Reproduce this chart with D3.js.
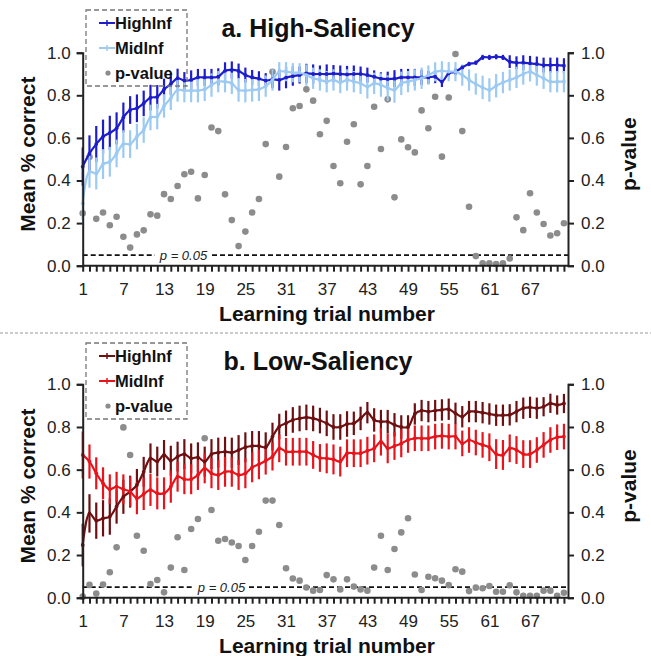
<!DOCTYPE html>
<html><head><meta charset="utf-8">
<script src="https://cdn.jsdelivr.net/npm/d3@7"></script>
<style>
html,body{margin:0;padding:0;background:#fff;}
svg{display:block;font-family:"Liberation Sans",Arial,sans-serif;}
</style></head>
<body>
<svg id="chart" width="651" height="656"></svg>
<script>
// ---------- DATA ----------
const trials = d3.range(1, 73);
const xTickLabels = [1, 7, 13, 19, 25, 31, 37, 43, 49, 55, 61, 67];
const yTickLabels = [0, 0.2, 0.4, 0.6, 0.8, 1.0];
const seriesNames = ["HighInf", "MidInf", "p-value"];

// Panel a: High-Saliency
const highSalHighInf = [0.465,0.527,0.571,0.606,0.624,0.645,0.696,0.731,0.739,0.762,
  0.789,0.793,0.828,0.853,0.880,0.869,0.872,0.884,0.884,0.884,
  0.887,0.915,0.919,0.914,0.895,0.884,0.878,0.869,0.875,0.872,
  0.883,0.890,0.895,0.903,0.900,0.900,0.900,0.902,0.900,0.898,
  0.900,0.900,0.895,0.887,0.878,0.876,0.878,0.884,0.884,0.884,
  0.884,0.884,0.887,0.864,0.903,0.911,0.931,0.947,0.953,0.978,
  0.978,0.981,0.978,0.958,0.953,0.953,0.950,0.947,0.942,0.942,0.942,0.939];
const highSalHighInfErr = [0.09,0.085,0.085,0.08,0.08,0.075,0.07,0.065,0.065,0.06,
  0.06,0.055,0.05,0.05,0.045,0.04,0.045,0.04,0.04,0.04,
  0.04,0.04,0.04,0.035,0.035,0.035,0.035,0.035,0.04,0.05,
  0.05,0.045,0.04,0.045,0.045,0.04,0.045,0.04,0.04,0.04,
  0.04,0.035,0.035,0.03,0.03,0.035,0.04,0.04,0.04,0.04,
  0.035,0.03,0.03,0.025,0.015,0.015,0.01,0.01,0.01,0.012,
  0.012,0.012,0.012,0.03,0.03,0.035,0.035,0.035,0.035,0.035,0.035,0.035];
const highSalMidInf = [0.293,0.441,0.433,0.477,0.488,0.527,0.571,0.571,0.606,0.637,
  0.696,0.700,0.750,0.786,0.825,0.822,0.822,0.822,0.828,0.848,
  0.864,0.864,0.856,0.825,0.822,0.825,0.828,0.843,0.872,0.911,
  0.911,0.906,0.906,0.895,0.880,0.872,0.864,0.872,0.860,0.872,
  0.864,0.856,0.840,0.856,0.848,0.834,0.825,0.856,0.864,0.872,
  0.880,0.895,0.910,0.915,0.911,0.911,0.895,0.872,0.853,0.837,
  0.825,0.845,0.860,0.872,0.884,0.900,0.910,0.895,0.880,0.864,0.864,0.864];
const highSalMidInfErr = [0.08,0.075,0.075,0.07,0.07,0.065,0.065,0.065,0.06,0.06,
  0.06,0.06,0.055,0.055,0.055,0.055,0.055,0.055,0.055,0.055,
  0.05,0.05,0.05,0.055,0.055,0.055,0.055,0.05,0.05,0.045,
  0.045,0.045,0.045,0.05,0.05,0.05,0.05,0.05,0.05,0.05,
  0.05,0.05,0.055,0.05,0.055,0.06,0.06,0.055,0.05,0.05,
  0.05,0.045,0.045,0.045,0.045,0.045,0.05,0.05,0.05,0.055,
  0.055,0.055,0.05,0.05,0.05,0.05,0.045,0.05,0.05,0.05,0.05,0.05];
const highSalP = [0.246,0.51,0.22,0.25,0.19,0.23,0.136,0.085,0.147,0.166,
  0.241,0.235,0.336,0.313,0.374,0.429,0.441,0.316,0.426,0.649,
  0.632,0.335,0.214,0.092,0.16,0.25,0.313,0.571,0.91,0.418,
  0.557,0.739,0.75,0.828,0.775,0.617,0.68,0.468,0.387,0.582,
  0.664,0.382,0.468,0.746,0.548,0.781,0.321,0.593,0.556,0.532,
  0.729,0.645,0.793,0.512,0.79,0.994,0.632,0.277,0.045,0.011,
  0.011,0.008,0.011,0.034,0.227,0.167,0.34,0.25,0.196,0.142,0.152,0.199];

// Panel b: Low-Saliency
const lowSalHighInf = [0.247,0.395,0.361,0.372,0.380,0.427,0.473,0.497,0.528,0.590,
  0.653,0.638,0.669,0.642,0.661,0.673,0.653,0.658,0.638,0.673,
  0.680,0.684,0.680,0.692,0.705,0.711,0.711,0.705,0.755,0.802,
  0.817,0.833,0.840,0.845,0.840,0.830,0.817,0.800,0.800,0.814,
  0.817,0.840,0.867,0.833,0.825,0.825,0.810,0.800,0.800,0.861,
  0.877,0.872,0.877,0.880,0.883,0.864,0.848,0.872,0.872,0.867,
  0.861,0.855,0.855,0.857,0.872,0.888,0.892,0.888,0.895,0.911,0.903,0.910];
const lowSalHighInfErr = [0.1,0.09,0.085,0.085,0.085,0.08,0.08,0.075,0.075,0.07,
  0.07,0.07,0.07,0.07,0.07,0.07,0.07,0.07,0.07,0.07,
  0.07,0.07,0.07,0.07,0.07,0.07,0.07,0.07,0.065,0.06,
  0.06,0.06,0.06,0.06,0.06,0.06,0.06,0.06,0.06,0.06,
  0.055,0.055,0.05,0.055,0.055,0.055,0.055,0.055,0.055,0.05,
  0.05,0.05,0.05,0.05,0.05,0.05,0.05,0.05,0.05,0.05,
  0.05,0.05,0.05,0.05,0.05,0.05,0.05,0.05,0.045,0.045,0.045,0.045];
const lowSalMidInf = [0.669,0.638,0.583,0.536,0.508,0.520,0.508,0.497,0.466,0.486,
  0.505,0.489,0.489,0.520,0.567,0.555,0.555,0.575,0.606,0.583,
  0.575,0.590,0.590,0.575,0.583,0.611,0.625,0.642,0.661,0.700,
  0.684,0.684,0.684,0.684,0.669,0.655,0.653,0.648,0.638,0.677,
  0.677,0.677,0.689,0.700,0.731,0.700,0.711,0.723,0.739,0.747,
  0.747,0.747,0.755,0.758,0.755,0.755,0.723,0.739,0.727,0.716,
  0.705,0.673,0.669,0.700,0.692,0.673,0.673,0.692,0.716,0.739,0.752,0.755];
const lowSalMidInfErr = [0.11,0.08,0.075,0.075,0.07,0.07,0.07,0.07,0.075,0.075,
  0.075,0.075,0.075,0.075,0.07,0.07,0.07,0.07,0.07,0.07,
  0.07,0.07,0.07,0.07,0.07,0.07,0.07,0.065,0.065,0.065,
  0.065,0.065,0.065,0.065,0.065,0.065,0.07,0.07,0.07,0.065,
  0.065,0.065,0.065,0.065,0.065,0.07,0.065,0.065,0.06,0.06,
  0.06,0.06,0.06,0.06,0.06,0.06,0.06,0.06,0.06,0.06,
  0.065,0.07,0.07,0.065,0.065,0.065,0.065,0.06,0.06,0.06,0.06,0.06];
const lowSalP = [0.005,0.06,0.02,0.062,0.119,0.236,0.798,0.669,0.29,0.22,
  0.064,0.083,0.025,0.141,0.283,0.13,0.322,0.369,0.747,0.411,
  0.267,0.275,0.259,0.242,0.177,0.242,0.309,0.455,0.455,0.341,
  0.138,0.09,0.08,0.048,0.033,0.036,0.106,0.086,0.039,0.086,
  0.052,0.039,0.033,0.141,0.29,0.13,0.228,0.306,0.372,0.109,
  0.036,0.098,0.091,0.08,0.059,0.133,0.122,0.031,0.047,0.044,
  0.055,0.028,0.028,0.058,0.025,0.009,0.009,0.009,0.033,0.033,0.009,0.023];

const pThreshold = 0.05;

// ---------- DRAW ----------
const svg = d3.select("#chart");
const font = '"Liberation Sans",Arial,sans-serif';
const axisColor = "#222";

// separator
svg.append("line").attr("x1", 0).attr("x2", 651).attr("y1", 333).attr("y2", 333)
  .attr("stroke", "#999").attr("stroke-width", 1).attr("stroke-dasharray", "3,2");

function drawPanel(cfg) {
  const x = d3.scaleLinear().domain([1, 72.6]).range([82.7, 568]);
  const y = d3.scaleLinear().domain([0, 1]).range([cfg.y0, cfg.y1]);
  const g = svg.append("g");

  // title
  g.append("text").attr("x", 318).attr("y", cfg.titleY).attr("text-anchor", "middle")
    .attr("font-size", 25).attr("font-weight", "bold").attr("fill", "#111").text(cfg.title);

  // p threshold line
  const pl = cfg.pLabelX;
  g.append("line").attr("x1", x(1)).attr("x2", pl[0]).attr("y1", y(pThreshold)).attr("y2", y(pThreshold))
    .attr("stroke", "#111").attr("stroke-width", 1.7).attr("stroke-dasharray", "5,3");
  g.append("line").attr("x1", pl[1]).attr("x2", x(72.6)).attr("y1", y(pThreshold)).attr("y2", y(pThreshold))
    .attr("stroke", "#111").attr("stroke-width", 1.7).attr("stroke-dasharray", "5,3");
  g.append("text").attr("x", (pl[0] + pl[1]) / 2).attr("y", y(pThreshold) + 4.5)
    .attr("text-anchor", "middle").attr("font-size", 13).attr("font-style", "italic")
    .attr("fill", "#222").text("p = 0.05");

  // p-values
  g.append("g").selectAll("circle").data(cfg.p).join("circle")
    .attr("cx", (d, i) => x(trials[i])).attr("cy", d => y(d)).attr("r", 3.3)
    .attr("fill", "#8c8c8c");

  // error bars for both series
  cfg.series.forEach(s => {
    g.append("g").selectAll("line").data(s.values).join("line")
      .attr("x1", (d, i) => x(trials[i])).attr("x2", (d, i) => x(trials[i]))
      .attr("y1", (d, i) => y(d - s.err[i])).attr("y2", (d, i) => y(d + s.err[i]))
      .attr("stroke", s.color).attr("stroke-width", 2.2);
  });
  // lines
  cfg.series.forEach(s => {
    const line = d3.line().x((d, i) => x(trials[i])).y(d => y(d)).curve(d3.curveCatmullRom.alpha(0.5));
    g.append("path").datum(s.values).attr("d", line).attr("fill", "none")
      .attr("stroke", s.color).attr("stroke-width", 2.2);
    g.append("g").selectAll("circle").data(s.values).join("circle")
      .attr("cx", (d, i) => x(trials[i])).attr("cy", d => y(d)).attr("r", 1.9)
      .attr("fill", s.color);
  });

  // axes
  const xAxis = d3.axisBottom(x).tickValues(trials).tickSize(6)
    .tickFormat(d => xTickLabels.includes(d) ? d : "");
  const xa = g.append("g").attr("transform", `translate(0,${cfg.y0})`).call(xAxis);
  xa.select(".domain").attr("d", `M${x(1)},0H${x(72.6)}`);
  const leftAxis = d3.axisLeft(y).tickValues(yTickLabels).tickSize(6).tickFormat(d3.format(".1f"));
  const la = g.append("g").attr("transform", `translate(${x(1)},0)`).call(leftAxis);
  const rightAxis = d3.axisRight(y).tickValues(yTickLabels).tickSize(6).tickFormat(d3.format(".1f"));
  const ra = g.append("g").attr("transform", `translate(${x(72.6)},0)`).call(rightAxis);
  [xa, la, ra].forEach(a => {
    a.selectAll("path,line").attr("stroke", axisColor).attr("stroke-width", 2);
    a.selectAll("text").attr("font-size", 17).attr("fill", "#222").attr("font-family", font);
  });
  xa.selectAll("text").attr("dy", "1.2em");
  la.selectAll("text").attr("dx", "-3");
  ra.selectAll("text").attr("dx", "4");

  // axis titles
  g.append("text").attr("x", 327).attr("y", cfg.y0 + 55).attr("text-anchor", "middle")
    .attr("font-size", 21).attr("font-weight", "bold").attr("fill", "#111").text("Learning trial number");
  g.append("text").attr("transform", `translate(35,${(cfg.y0 + cfg.y1) / 2 - 5}) rotate(-90)`)
    .attr("text-anchor", "middle").attr("font-size", 21).attr("font-weight", "bold")
    .attr("fill", "#111").text("Mean % correct");
  g.append("text").attr("transform", `translate(636,${(cfg.y0 + cfg.y1) / 2 - 5}) rotate(-90)`)
    .attr("text-anchor", "middle").attr("font-size", 21).attr("font-weight", "bold")
    .attr("fill", "#111").text("p-value");

  // legend
  const lg = g.append("g").attr("transform", `translate(86,${cfg.legendY})`);
  lg.append("rect").attr("x", 0).attr("y", 0).attr("width", 101).attr("height", 76)
    .attr("fill", "none").attr("stroke", "#777").attr("stroke-width", 1.3).attr("stroke-dasharray", "5,3");
  const entries = [
    {name: seriesNames[0], color: cfg.series[0].color, type: "line"},
    {name: seriesNames[1], color: cfg.series[1].color, type: "line"},
    {name: seriesNames[2], color: "#8c8c8c", type: "dot"}
  ];
  entries.forEach((e, i) => {
    const ey = 13 + i * 25;
    if (e.type === "line") {
      lg.append("line").attr("x1", 13).attr("x2", 29).attr("y1", ey).attr("y2", ey)
        .attr("stroke", e.color).attr("stroke-width", 2);
      lg.append("line").attr("x1", 21).attr("x2", 21).attr("y1", ey - 3).attr("y2", ey + 3)
        .attr("stroke", e.color).attr("stroke-width", 1.5);
    } else {
      lg.append("circle").attr("cx", 22).attr("cy", ey).attr("r", 2.6).attr("fill", e.color);
    }
    lg.append("text").attr("x", 29).attr("y", ey + 6).attr("font-size", 16.5)
      .attr("font-weight", "bold").attr("fill", "#111").text(e.name);
  });
}

drawPanel({
  title: "a. High-Saliency", titleY: 37, y0: 265.7, y1: 52.7, legendY: 10, pLabelX: [155, 212],
  p: highSalP,
  series: [
    {values: highSalHighInf, err: highSalHighInfErr, color: "#1d1dcc"},
    {values: highSalMidInf, err: highSalMidInfErr, color: "#9ccaf2"}
  ]
});
drawPanel({
  title: "b. Low-Saliency", titleY: 370, y0: 597.7, y1: 384.3, legendY: 343, pLabelX: [194, 249],
  p: lowSalP,
  series: [
    {values: lowSalHighInf, err: lowSalHighInfErr, color: "#6e1012"},
    {values: lowSalMidInf, err: lowSalMidInfErr, color: "#e8141c"}
  ]
});
</script>
</body></html>
